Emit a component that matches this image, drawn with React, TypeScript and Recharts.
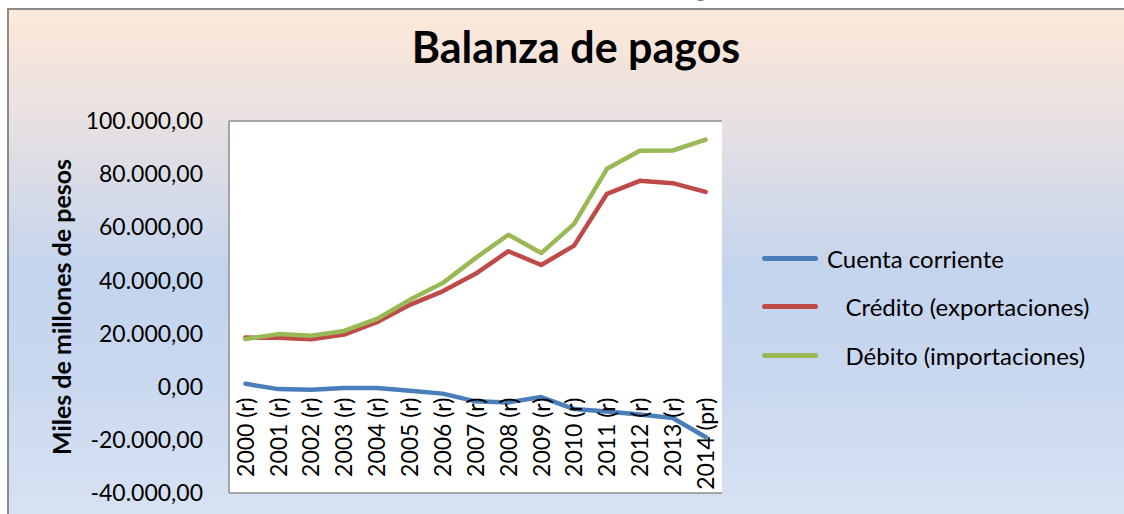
import { LineChart, Line, XAxis, YAxis, CartesianGrid } from 'recharts';

const years = [
  '2000 (r)', '2001 (r)', '2002 (r)', '2003 (r)', '2004 (r)', '2005 (r)', '2006 (r)', '2007 (r)',
  '2008 (r)', '2009 (r)', '2010 (r)', '2011 (r)', '2012 (r)', '2013 (r)', '2014 (pr)',
];
const cuentaCorriente = [1100, -900, -1100, -500, -500, -1500, -2600, -5500, -5900, -3900, -8400, -9300, -10500, -11800, -18900];
const credito = [18500, 18400, 17900, 19600, 24300, 30800, 35900, 42500, 51000, 45800, 53100, 72600, 77500, 76600, 73300];
const debito = [17900, 19800, 19200, 21000, 25500, 32700, 39000, 48400, 57200, 50300, 61300, 82000, 88800, 88900, 93000];
const yTicks = [-40000, -20000, 0, 20000, 40000, 60000, 80000, 100000];

const series = [
  { key: 'cuenta', name: 'Cuenta corriente', color: '#4A7EBB' },
  { key: 'credito', name: '   Crédito (exportaciones)', color: '#BE4B48' },
  { key: 'debito', name: '   Débito (importaciones)', color: '#98B954' },
];

const data = years.map((year, i) => ({
  year,
  cuenta: cuentaCorriente[i],
  credito: credito[i],
  debito: debito[i],
}));

const FONT = 'Lato, "Open Sans", sans-serif';
const W = 1124;
const H = 514;
const Y_AXIS_W = 229;
const X_AXIS_H = 1;
const MARGIN = { top: 121, right: 402, bottom: 20, left: 0 };
const Y_MIN = -40000;
const Y_MAX = 100000;
const PLOT_W = W - MARGIN.left - MARGIN.right - Y_AXIS_W;
const PLOT_H = H - MARGIN.top - MARGIN.bottom - X_AXIS_H;
const PAD = PLOT_W / years.length / 2;
// the category labels sit just under the 0 line, like the Excel axis crossing at 0
const ZERO_Y = MARGIN.top + (PLOT_H * (Y_MAX - 0)) / (Y_MAX - Y_MIN);

const fmt = (v: number) => {
  const neg = v < 0;
  const s = Math.abs(v).toFixed(0).replace(/\B(?=(\d{3})+(?!\d))/g, '.');
  return (neg ? '-' : '') + s + ',00';
};

const YearTick = (props: any) => {
  const { x, payload } = props;
  return (
    <g transform={`translate(${x},${ZERO_Y + 11})`}>
      <text transform="rotate(-90)" textAnchor="end" dy="0.36em" fontSize={23} fill="#000" fontFamily={FONT}>
        {payload.value}
      </text>
    </g>
  );
};

export default function App() {
  return (
    <div style={{ position: 'fixed', left: 0, top: 0, width: W, height: H, overflow: 'hidden', background: '#fff' }}>
      <svg width={W} height={10} style={{ position: 'absolute', left: 0, top: 0 }}>
        <text x={592} y={-7} textAnchor="middle" fontSize={43} fontWeight={700} fontFamily={FONT}>
          Balanza de pagos
        </text>
      </svg>
      <div
        style={{
          position: 'absolute',
          left: 7,
          top: 8,
          width: W + 20,
          height: H + 20,
          border: '2px solid #8a8a8a',
          background:
            'linear-gradient(to bottom, #fde9d9 0%, #f3e4dc 10%, #e6e0e3 22%, #d4dae8 36%, #c3d4ee 50%, #cad8ef 70%, #dae4f4 100%)',
        }}
      />
      <div
        style={{
          position: 'absolute',
          left: 0,
          top: 20,
          width: 1152,
          textAlign: 'center',
          fontFamily: FONT,
          fontWeight: 700,
          fontSize: 43,
          lineHeight: '54px',
          color: '#000',
        }}
      >
        Balanza de pagos
      </div>
      <div style={{ position: 'absolute', left: 0, top: 0 }}>
        <LineChart width={W} height={H} data={data} margin={MARGIN}>
          <CartesianGrid vertical={false} stroke="#8c8c8c" strokeWidth={1.5} fill="#ffffff" fillOpacity={1} />
          <XAxis
            dataKey="year"
            height={X_AXIS_H}
            axisLine={false}
            tickLine={false}
            interval={0}
            padding={{ left: PAD, right: PAD }}
            tick={YearTick}
          />
          <YAxis
            yAxisId="left"
            width={Y_AXIS_W}
            domain={[Y_MIN, Y_MAX]}
            ticks={yTicks}
            tickFormatter={fmt}
            tickLine={false}
            tickMargin={20}
            axisLine={{ stroke: '#8c8c8c', strokeWidth: 1.5 }}
            tick={{ fill: '#000', fontSize: 23, fontFamily: FONT }}
            label={({ viewBox }: any) => (
              <text
                x={61}
                y={viewBox.y + viewBox.height / 2}
                transform={`rotate(-90, 61, ${viewBox.y + viewBox.height / 2})`}
                textAnchor="middle"
                dominantBaseline="central"
                fontSize={25}
                fontWeight={700}
                fontFamily={FONT}
                fill="#000"
              >
                Miles de millones de pesos
              </text>
            )}
          />
          <YAxis
            yAxisId="right"
            orientation="right"
            width={0}
            domain={[Y_MIN, Y_MAX]}
            ticks={yTicks}
            tick={false}
            tickLine={false}
            axisLine={{ stroke: '#8c8c8c', strokeWidth: 1.5 }}
          />
          {series.map((s) => (
            <Line
              key={s.key}
              yAxisId="left"
              type="linear"
              dataKey={s.key}
              name={s.name}
              stroke={s.color}
              strokeWidth={4.5}
              dot={false}
              strokeLinecap="round"
              strokeLinejoin="round"
              isAnimationActive={false}
            />
          ))}
        </LineChart>
      </div>
      <div style={{ position: 'absolute', left: 762, top: 234, fontFamily: FONT, fontSize: 24, color: '#000' }}>
        {series.map((s) => (
          <div key={s.key} style={{ display: 'flex', alignItems: 'center', height: 48.5 }}>
            <div style={{ width: 56, height: 5, borderRadius: 3, background: s.color, marginRight: 9 }} />
            <span style={{ whiteSpace: 'pre' }}>{s.name}</span>
          </div>
        ))}
      </div>
    </div>
  );
}
